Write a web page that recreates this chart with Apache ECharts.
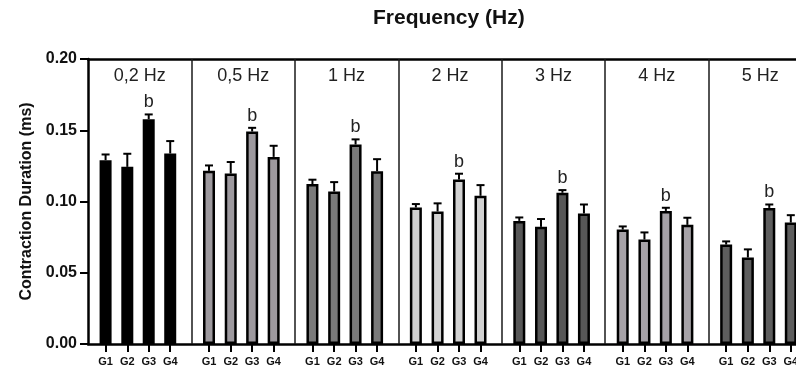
<!DOCTYPE html>
<html>
<head>
<meta charset="utf-8">
<script src="https://cdn.jsdelivr.net/npm/echarts@6/dist/echarts.min.js"></script>
<style>html,body{margin:0;padding:0;background:#fff;overflow:hidden;}#c{width:796px;height:365px;}</style>
</head>
<body>
<div id="c"></div>
<script>
// ---- data ----
const groups = ['G1', 'G2', 'G3', 'G4'];
const freqLabels = ['0,2 Hz', '0,5 Hz', '1 Hz', '2 Hz', '3 Hz', '4 Hz', '5 Hz'];
const yTicks = [0, 0.05, 0.10, 0.15, 0.20];
const meanG1 = [0.1290, 0.1215, 0.1122, 0.0958, 0.0864, 0.0803, 0.0698];
const meanG2 = [0.1243, 0.1196, 0.1070, 0.0930, 0.0822, 0.0733, 0.0607];
const meanG3 = [0.1578, 0.1491, 0.1400, 0.1154, 0.1061, 0.0934, 0.0955];
const meanG4 = [0.1337, 0.1313, 0.1213, 0.1040, 0.0916, 0.0836, 0.0852];
const errG1 = [0.0040, 0.0038, 0.0031, 0.0024, 0.0024, 0.0022, 0.0022];
const errG2 = [0.0092, 0.0081, 0.0066, 0.0057, 0.0055, 0.0050, 0.0057];
const errG3 = [0.0033, 0.0026, 0.0036, 0.0041, 0.0019, 0.0022, 0.0024];
const errG4 = [0.0087, 0.0078, 0.0084, 0.0075, 0.0063, 0.0050, 0.0052];
const letterG3 = ['b', 'b', 'b', 'b', 'b', 'b', 'b'];

// ---- layout / style ----
const panelColors = ['#000000', '#9d999e', '#7a7a7a', '#d2d2d2', '#575757', '#a6a2a7', '#5e5e5e'];
const groupOffsets = [0.17, 0.38, 0.587, 0.795];
const FONT = '"Liberation Sans", Arial, sans-serif';

const means = [meanG1, meanG2, meanG3, meanG4];
const errs = [errG1, errG2, errG3, errG4];
const letters = [null, null, letterG3, null];

const barData = [], errData = [], errLetters = [], tickPos = [], tickLab = {};
freqLabels.forEach((f, fi) => {
  groups.forEach((g, gi) => {
    const x = fi + groupOffsets[gi];
    barData.push({ value: [x, means[gi][fi]], itemStyle: { color: panelColors[fi] } });
    errData.push([x, means[gi][fi], errs[gi][fi]]);
    errLetters.push(letters[gi] ? letters[gi][fi] : '');
    tickPos.push(x);
    tickLab[x.toFixed(4)] = g;
  });
});
const panelCenters = freqLabels.map((_, i) => i + 0.5);
const dividers = freqLabels.slice(1).map((_, i) => ({ xAxis: i + 1 }));

const chart = echarts.init(document.getElementById('c'), null, { renderer: 'canvas' });
chart.setOption({
  backgroundColor: '#ffffff',
  animation: false,
  title: {
    text: 'Frequency (Hz)', left: 373, top: 8, padding: 0,
    textStyle: { fontFamily: FONT, fontWeight: 'bold', fontSize: 21, color: '#111' }
  },
  grid: { left: 88, width: 724, top: 59, height: 285, containLabel: false, outerBoundsMode: 'none' },
  xAxis: [
    {
      type: 'value', position: 'bottom', min: 0, max: 7, interval: 1,
      axisLine: { show: true, onZero: false, lineStyle: { color: '#000', width: 2.5 } },
      axisTick: { show: true, customValues: tickPos, length: 8, lineStyle: { color: '#000', width: 2 } },
      axisLabel: {
        show: true, customValues: tickPos, margin: 12,
        fontFamily: FONT, fontWeight: 'bold', fontSize: 11, color: '#111',
        formatter: v => tickLab[Number(v).toFixed(4)] || ''
      },
      splitLine: { show: false }
    },
    {
      type: 'value', position: 'top', min: 0, max: 7, interval: 1,
      axisLine: { show: true, onZero: false, lineStyle: { color: '#000', width: 2.5 } },
      axisTick: { show: false },
      axisLabel: {
        show: true, inside: true, customValues: panelCenters, margin: 8,
        fontFamily: FONT, fontSize: 18, color: '#222',
        formatter: v => freqLabels[Math.floor(v)] || ''
      },
      splitLine: { show: false }
    }
  ],
  yAxis: {
    type: 'value', min: 0, max: 0.2, interval: 0.05,
    name: 'Contraction Duration (ms)', nameLocation: 'middle', nameGap: 45,
    nameTextStyle: { fontFamily: FONT, fontWeight: 'bold', fontSize: 16, color: '#111' },
    axisLine: { show: true, lineStyle: { color: '#000', width: 2.5 } },
    axisTick: { show: true, length: 8, lineStyle: { color: '#000', width: 2 } },
    axisLabel: {
      margin: 11, fontFamily: FONT, fontWeight: 'bold', fontSize: 16, color: '#111',
      formatter: v => yTicks.some(t => Math.abs(t - v) < 1e-9) ? v.toFixed(2) : ''
    },
    splitLine: { show: false }
  },
  series: [
    {
      type: 'bar', xAxisIndex: 0, yAxisIndex: 0, barWidth: 12,
      data: barData,
      itemStyle: { borderColor: '#000', borderWidth: 2.5 },
      markLine: {
        silent: true, symbol: ['none', 'none'], label: { show: false },
        lineStyle: { color: '#1a1a1a', width: 1.5, type: 'solid' },
        data: dividers, animation: false
      },
      z: 2
    },
    {
      type: 'custom', xAxisIndex: 0, yAxisIndex: 0,
      data: errData,
      encode: { x: 0, y: 1 },
      renderItem: (params, api) => {
        const x = api.value(0), m = api.value(1), e = api.value(2);
        const p0 = api.coord([x, m]);
        const p1 = api.coord([x, m + e]);
        const children = [
          { type: 'line', shape: { x1: p0[0], y1: p0[1], x2: p1[0], y2: p1[1] }, style: { stroke: '#000', lineWidth: 2 } },
          { type: 'line', shape: { x1: p1[0] - 4, y1: p1[1], x2: p1[0] + 4, y2: p1[1] }, style: { stroke: '#000', lineWidth: 2 } }
        ];
        const lt = errLetters[params.dataIndex];
        if (lt) {
          children.push({ type: 'text', x: p1[0], y: p1[1] - 3, style: { text: lt, fontFamily: FONT, fontSize: 18, fill: '#222', align: 'center', verticalAlign: 'bottom' } });
        }
        return { type: 'group', children };
      },
      z: 3
    }
  ]
});
</script>
</body>
</html>
